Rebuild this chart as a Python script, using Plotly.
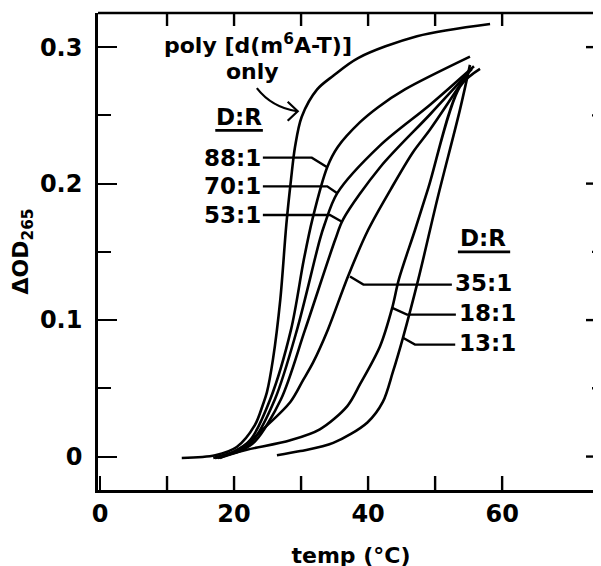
import plotly.graph_objects as go

# ---- data (temp in °C, ΔOD265) ----
poly_x = [12.2, 17.2, 20.4, 23.1, 24.3, 24.9, 25.8, 26.9, 27.8, 28.5, 29.1, 30.1, 32.4, 34.8, 38.5, 47.3, 58.2]
poly_y = [-0.001, 0.001, 0.007, 0.023, 0.038, 0.047, 0.071, 0.115, 0.170, 0.203, 0.227, 0.249, 0.269, 0.279, 0.292, 0.308, 0.317]

r88_x = [16.9, 20.1, 22.4, 25.4, 28.5, 30.4, 31.7, 33.9, 35.5, 38.8, 41.5, 45.5, 55.2]
r88_y = [-0.001, 0.004, 0.012, 0.042, 0.093, 0.144, 0.174, 0.212, 0.227, 0.245, 0.256, 0.269, 0.293]

r70_x = [17.2, 20.6, 22.7, 26.1, 29.4, 32.8, 33.5, 35.4, 41.8, 49.3, 55.8]
r70_y = [-0.001, 0.004, 0.011, 0.042, 0.093, 0.159, 0.170, 0.193, 0.228, 0.258, 0.286]

r53_x = [17.6, 20.9, 23.1, 27.0, 30.6, 35.1, 36.3, 41.8, 49.3, 55.5]
r53_y = [-0.001, 0.004, 0.011, 0.042, 0.093, 0.159, 0.174, 0.212, 0.251, 0.284]

r35_x = [17.9, 21.3, 24.3, 28.4, 30.3, 31.8, 34.0, 37.0, 40.0, 43.4, 46.7, 49.3, 54.9]
r35_y = [-0.001, 0.007, 0.020, 0.040, 0.056, 0.069, 0.093, 0.132, 0.166, 0.196, 0.223, 0.240, 0.281]

r18_x = [17.2, 21.9, 28.4, 32.8, 36.9, 38.8, 41.8, 43.6, 44.6, 47.0, 49.0, 53.7, 56.7]
r18_y = [-0.001, 0.005, 0.012, 0.020, 0.037, 0.053, 0.081, 0.109, 0.130, 0.166, 0.197, 0.271, 0.284]

r13_x = [26.4, 29.9, 34.8, 39.9, 42.2, 43.7, 45.2, 47.5, 50.4, 53.7, 55.2]
r13_y = [0.001, 0.004, 0.010, 0.025, 0.040, 0.062, 0.087, 0.130, 0.190, 0.254, 0.287]

x_ticks = [0, 10, 20, 30, 40, 50, 60]
x_labels = ["0", "", "20", "", "40", "", "60"]
y_ticks = [0, 0.1, 0.2, 0.3]
y_labels = ["0", "0.1", "0.2", "0.3"]
y_minor = [0.05, 0.15, 0.25]

XR = [-0.3, 75.2]
YR = [-0.0245, 0.325]
FONT = "DejaVu Sans"
LW = 2.6
TW = 2.4

fig = go.Figure()
for xs, ys in [(poly_x, poly_y), (r88_x, r88_y), (r70_x, r70_y), (r53_x, r53_y),
               (r35_x, r35_y), (r18_x, r18_y), (r13_x, r13_y)]:
    fig.add_trace(go.Scatter(x=xs, y=ys, mode="lines",
                             line=dict(color="black", width=LW, shape="spline", smoothing=0.9),
                             hoverinfo="skip", showlegend=False))

tick_line = dict(color="black", width=TW)
# bottom and top tick marks (pixel-length lines anchored at the x scale values)
for v in x_ticks[1:]:
    fig.add_shape(type="line", xref="x", yref="paper", x0=v, x1=v, ysizemode="pixel",
                  yanchor=0, y0=0, y1=14, line=tick_line)
    fig.add_shape(type="line", xref="x", yref="paper", x0=v, x1=v, ysizemode="pixel",
                  yanchor=1, y0=0, y1=-13, line=tick_line)
# right-side tick marks
for v in y_ticks:
    fig.add_shape(type="line", xref="paper", yref="y", y0=v, y1=v, xsizemode="pixel",
                  xanchor=1, x0=0, x1=-18, line=tick_line)
for v in y_minor:
    fig.add_shape(type="line", xref="paper", yref="y", y0=v, y1=v, xsizemode="pixel",
                  xanchor=1, x0=0, x1=-12, line=tick_line)

# top frame line
fig.add_shape(type="line", xref="paper", yref="paper", x0=0, x1=1, y0=1, y1=1,
              line=dict(color="black", width=LW))

# leader lines
leaders = [
    [(24.3, 0.219), (31.6, 0.219), (33.9, 0.212)],
    [(24.3, 0.198), (33.9, 0.198), (35.4, 0.193)],
    [(24.3, 0.177), (34.3, 0.177), (36.1, 0.172)],
    [(37.3, 0.132), (39.3, 0.126), (52.5, 0.126)],
    [(43.6, 0.109), (45.8, 0.104), (53.1, 0.104)],
    [(45.2, 0.087), (47.0, 0.082), (53.0, 0.082)],
]
for pts in leaders:
    path = "M " + " L ".join(f"{px},{py}" for px, py in pts)
    fig.add_shape(type="path", path=path, xref="x", yref="y",
                  line=dict(color="black", width=2.4))

# underlines of D:R
fig.add_shape(type="line", x0=17.2, x1=24.3, y0=0.239, y1=0.239, xref="x", yref="y",
              line=dict(color="black", width=2.6))
fig.add_shape(type="line", x0=53.4, x1=61.2, y0=0.150, y1=0.150, xref="x", yref="y",
              line=dict(color="black", width=2.6))

# curved arrow to poly-only curve
fig.add_shape(type="path", path="M 23.4,0.270 Q 25.6,0.256 29.4,0.253", xref="x", yref="y",
              line=dict(color="black", width=2.2))
fig.add_shape(type="path", path="M 28.0,0.260 L 29.5,0.253 L 28.0,0.246", xref="x", yref="y",
              line=dict(color="black", width=2.2))

def txt(x, y, s, size=23, xanchor="center"):
    fig.add_annotation(x=x, y=y, xref="x", yref="y", text=s, showarrow=False,
                       xanchor=xanchor, yanchor="middle",
                       font=dict(family=FONT, size=size, color="black", weight="bold"))

txt(9.25, 0.302, "poly [d(m<sup>6</sup>A-T)]", size=22, xanchor="left")
txt(22.7, 0.282, "only", size=22)
txt(20.75, 0.249, "D:R")
txt(24.3, 0.219, "88:1", xanchor="right")
txt(24.3, 0.198, "70:1", xanchor="right")
txt(24.3, 0.177, "53:1", xanchor="right")
txt(57.2, 0.160, "D:R")
txt(52.6, 0.127, "35:1", xanchor="left")
txt(53.2, 0.105, "18:1", xanchor="left")
txt(53.2, 0.083, "13:1", xanchor="left")

tickfont = dict(family=FONT, size=24, color="black", weight="bold")
fig.update_layout(
    width=601, height=566,
    margin=dict(l=90, r=5, t=5, b=84, autoexpand=False),
    paper_bgcolor="white", plot_bgcolor="white",
    xaxis=dict(range=XR, automargin=False, showgrid=False, zeroline=False, showline=True,
               linecolor="black", linewidth=LW, ticks="inside", ticklen=14,
               tickwidth=TW, tickcolor="black", tickmode="array", tickvals=x_ticks,
               ticktext=x_labels, tickfont=tickfont,
               title=dict(text="temp (°C)", standoff=22,
                          font=dict(family=FONT, size=22, color="black", weight="bold"))),
    yaxis=dict(range=YR, automargin=False, showgrid=False, zeroline=False, showline=True,
               linecolor="black", linewidth=LW, ticks="inside", ticklen=19,
               tickwidth=TW, tickcolor="black", tickmode="array", tickvals=y_ticks,
               ticktext=y_labels, tickfont=tickfont, ticklabelstandoff=8,
               minor=dict(tickmode="array", tickvals=y_minor, ticks="inside", ticklen=13,
                          tickwidth=TW, tickcolor="black", showgrid=False),
               title=dict(text="ΔOD<sub>265</sub>", standoff=8,
                          font=dict(family=FONT, size=22, color="black", weight="bold"))),
)

fig.write_html("out.html")
